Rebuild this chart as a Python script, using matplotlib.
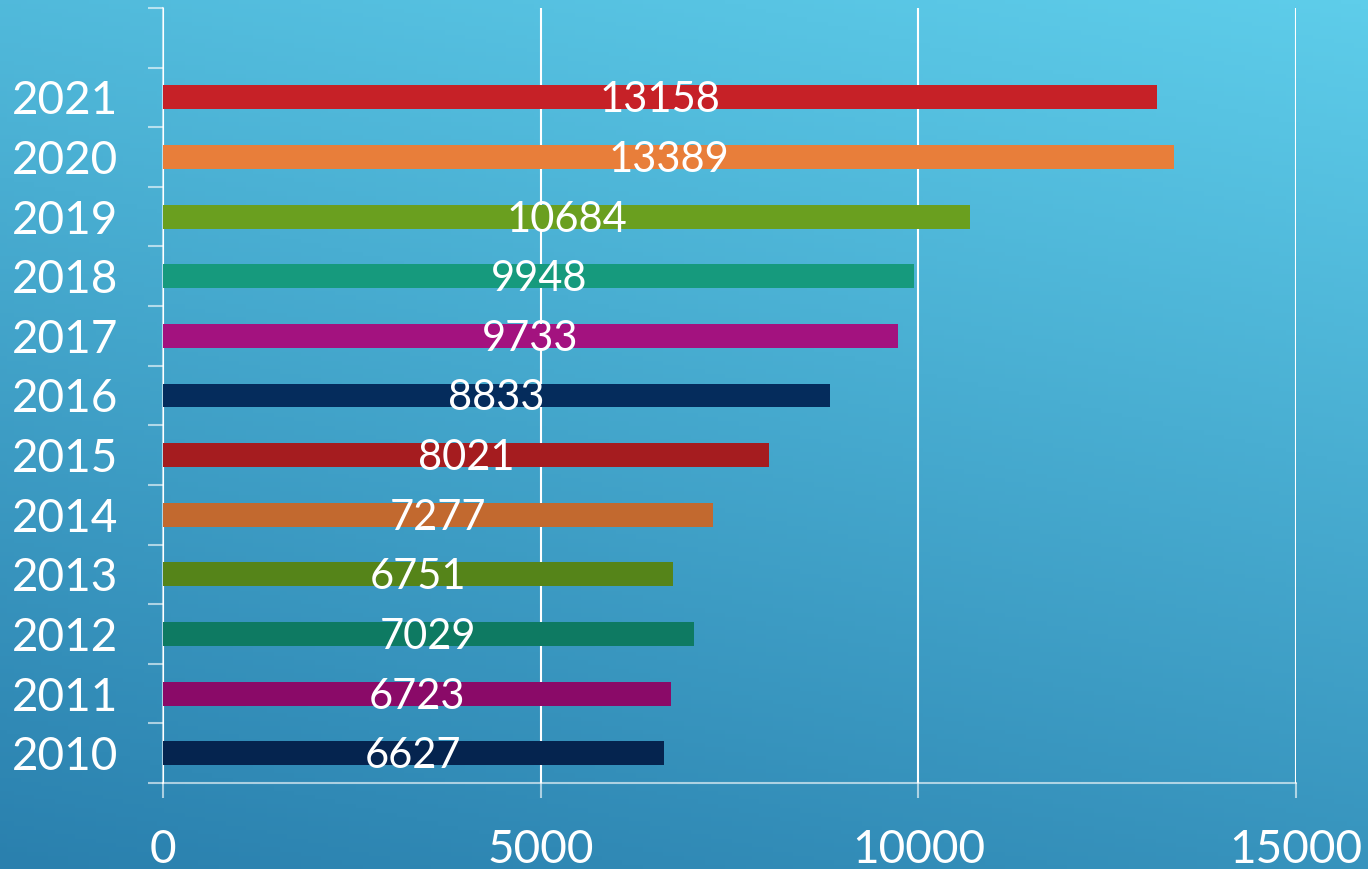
import matplotlib
matplotlib.use("Agg")
import matplotlib.pyplot as plt
import numpy as np
from matplotlib.colors import LinearSegmentedColormap

years = ["2010", "2011", "2012", "2013", "2014", "2015", "2016", "2017", "2018", "2019", "2020", "2021"]
values = [6627, 6723, 7029, 6751, 7277, 8021, 8833, 9733, 9948, 10684, 13389, 13158]
colors = ["#05244f", "#8a0a68", "#0e7a62", "#558419", "#c2692f", "#a51c1f",
          "#052c5c", "#a3127f", "#169a7d", "#6a9f1f", "#e87e3a", "#c62127"]
x_ticks = [0, 5000, 10000, 15000]

plt.rcParams['font.family'] = ['Lato', 'DejaVu Sans']

fig = plt.figure(figsize=(13.68, 8.69), dpi=100)

# gradient background
bg = fig.add_axes([0, 0, 1, 1])
bg.set_axis_off()
yy, xx = np.mgrid[0:1:200j, 0:1:200j]
t = 0.75 * yy + 0.25 * xx
cmap = LinearSegmentedColormap.from_list("bg", ["#2a80ae", "#5ecdea"])
bg.imshow(t, cmap=cmap, origin="lower", extent=[0, 1, 0, 1], aspect="auto")
bg.set_xlim(0, 1); bg.set_ylim(0, 1)

ax = fig.add_axes([163/1368, 1 - 783/869, (1296-163)/1368, (783-8)/869])
ax.patch.set_alpha(0)
ypos = np.arange(len(years))
ax.barh(ypos, values, height=0.4, color=colors, zorder=3)

for y, v in zip(ypos, values):
    ax.text(v / 2, y - 0.05, str(v), ha="center", va="center", color="white",
            fontsize=30, fontweight="normal", zorder=4)

ax.set_xlim(0, 15000)
ax.set_ylim(-0.5, len(years) + 0.5)

line_c = (1, 1, 1, 0.6)
ax.set_xticks(x_ticks)
ax.set_xticklabels([str(v) for v in x_ticks])
ax.xaxis.grid(True, color=line_c, linewidth=1.5, zorder=1)
ax.set_yticks(np.arange(-0.5, len(years) + 1, 1.0))
ax.set_yticklabels([])
ax.set_yticks(ypos, minor=True)
ax.set_yticklabels(years, minor=True)
ax.tick_params(axis="y", which="major", length=15*0.72, width=1.5, color=line_c)
ax.tick_params(axis="y", which="minor", length=0, pad=32, labelsize=33, labelcolor="white")
ax.tick_params(axis="x", which="major", length=15*0.72, width=1.5, color=line_c,
               pad=22, labelsize=33, labelcolor="white")

for s in ["top", "right"]:
    ax.spines[s].set_visible(False)
for s in ["left", "bottom"]:
    ax.spines[s].set_color(line_c)
    ax.spines[s].set_linewidth(1.5)

fig.savefig("out.png", dpi=100)
